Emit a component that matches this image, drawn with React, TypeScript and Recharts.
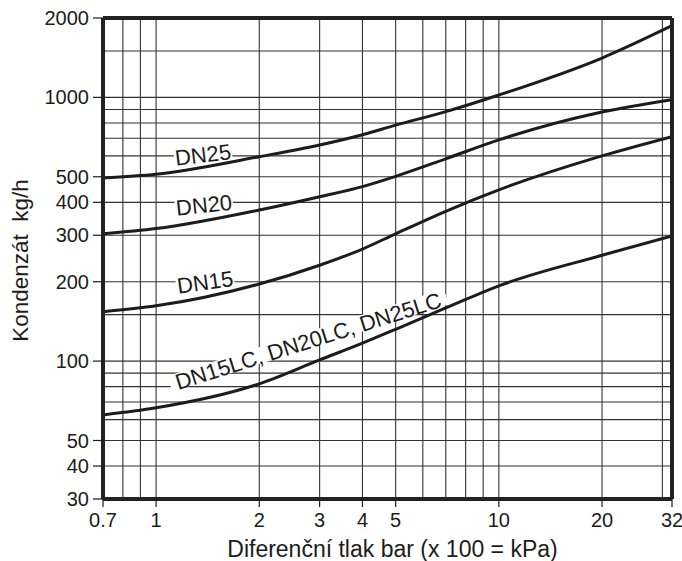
import React from 'react';
import { LineChart, Line, XAxis, YAxis, ReferenceLine, ReferenceDot } from 'recharts';

const pressure = [0.7, 1, 2, 3, 4, 5, 7, 10, 20, 32];
const dn25 = [495, 511, 596, 660, 722, 785, 883, 1021, 1410, 1870];
const dn20 = [304, 318, 374, 420, 459, 502, 585, 690, 880, 980];
const dn15 = [154, 162, 196, 231, 266, 304, 370, 446, 600, 710];
const dnLC = [62.5, 66.5, 82, 101, 117, 132, 159, 193, 252, 298];

const xTicks = [0.7, 1, 2, 3, 4, 5, 10, 20, 32];
const yTicks = [30, 40, 50, 100, 200, 300, 400, 500, 1000, 2000];
const xGrid = [0.8, 0.9, 1, 2, 3, 4, 5, 6, 7, 8, 9, 10, 20, 30];
const yGrid = [40, 50, 60, 70, 80, 90, 100, 150, 200, 300, 400, 500, 600, 700, 800, 900, 1000, 1500];
const xDomain = [0.7, 32];
const yDomain = [30, 2000];

const labelTexts = ['DN25', 'DN20', 'DN15', 'DN15LC, DN20LC, DN25LC'];
const labelX = [1.37, 1.38, 1.39, 2.78];
const labelY = [605, 390, 199, 119];
const labelAngles = [-7, -6, -8, -17.5];

const data = pressure.map((p, i) => ({ p, dn25: dn25[i], dn20: dn20[i], dn15: dn15[i], lc: dnLC[i] }));

const FONT = '"Liberation Sans", Arial, Helvetica, sans-serif';
const INK = '#1c1c1c';

function textWidth(t: string, fs: number) {
  let w = 0;
  for (const c of t) {
    if (/[A-Z]/.test(c)) w += 0.72;
    else if (/[0-9]/.test(c)) w += 0.556;
    else w += 0.278;
  }
  return w * fs;
}

const makeLabelShape = (text: string, angle: number) => (props: any) => {
  const fs = 22;
  const w = textWidth(text, fs) + 2;
  return (
    <g transform={`translate(${props.cx},${props.cy}) rotate(${angle})`}>
      <rect x={-w / 2} y={-9} width={w} height={16} fill="#fff" />
      <text x={0} y={0} textAnchor="middle" dominantBaseline="central" fontSize={fs} fontFamily={FONT} fill={INK}>
        {text}
      </text>
    </g>
  );
};

export default function App() {
  return (
    <div style={{ position: 'absolute', left: 0, top: 0, background: '#fff' }}>
      <LineChart width={682} height={561} data={data} margin={{ top: 18, right: 10, bottom: 0, left: 0 }}>
        <XAxis
          dataKey="p"
          type="number"
          scale="log"
          domain={xDomain}
          allowDataOverflow
          ticks={xTicks}
          interval={0}
          height={62}
          axisLine={false}
          tickLine={{ stroke: INK, strokeWidth: 1.2 }}
          tickSize={8}
          tickMargin={6}
          tick={{ fontSize: 20, fontFamily: FONT, fill: INK }}
          label={{
            content: (props: any) => {
              const vb = props.viewBox || { x: 103, y: 499, width: 569, height: 62 };
              return (
                <text x={vb.x + vb.width / 2 + 5} y={vb.y + 58} textAnchor="middle" fontSize={23} fontFamily={FONT} fill={INK}>
                  Diferenční tlak bar (x 100 = kPa)
                </text>
              );
            },
          }}
        />
        <YAxis
          type="number"
          scale="log"
          domain={yDomain}
          allowDataOverflow
          ticks={yTicks}
          interval={0}
          width={103}
          axisLine={false}
          tickLine={{ stroke: INK, strokeWidth: 1.2 }}
          tickSize={10}
          tickMargin={4}
          tick={{ fontSize: 20, fontFamily: FONT, fill: INK }}
          label={{
            content: (props: any) => {
              const vb = props.viewBox || { x: 0, y: 18, width: 103, height: 481 };
              const cx = vb.x + 28;
              const cy = vb.y + vb.height / 2 + 2;
              return (
                <text
                  x={cx}
                  y={cy}
                  transform={`rotate(-90, ${cx}, ${cy})`}
                  textAnchor="middle"
                  fontSize={22.5}
                  fontFamily={FONT}
                  fill={INK}
                  style={{ whiteSpace: 'pre' }}
                >
                  {'Kondenzát  kg/h'}
                </text>
              );
            },
          }}
        />
        {xGrid.map((v) => (
          <ReferenceLine key={'gx' + v} x={v} stroke="#333" strokeWidth={1.1} />
        ))}
        {yGrid.map((v) => (
          <ReferenceLine key={'gy' + v} y={v} stroke="#333" strokeWidth={1.1} />
        ))}
        {labelTexts.map((t, i) => (
          <ReferenceDot key={'lb' + i} x={labelX[i]} y={labelY[i]} r={0} shape={makeLabelShape(t, labelAngles[i])} />
        ))}
        <Line dataKey="dn25" type="monotone" stroke={INK} strokeWidth={3} dot={false} isAnimationActive={false} />
        <Line dataKey="dn20" type="monotone" stroke={INK} strokeWidth={3} dot={false} isAnimationActive={false} />
        <Line dataKey="dn15" type="monotone" stroke={INK} strokeWidth={3} dot={false} isAnimationActive={false} />
        <Line dataKey="lc" type="monotone" stroke={INK} strokeWidth={3} dot={false} isAnimationActive={false} />
        <ReferenceLine x={xDomain[0]} stroke="#222" strokeWidth={4} ifOverflow="visible" />
        <ReferenceLine x={xDomain[1]} stroke="#222" strokeWidth={4} ifOverflow="visible" />
        <ReferenceLine y={yDomain[0]} stroke="#222" strokeWidth={4} ifOverflow="visible" />
        <ReferenceLine y={yDomain[1]} stroke="#222" strokeWidth={4} ifOverflow="visible" />
      </LineChart>
    </div>
  );
}
